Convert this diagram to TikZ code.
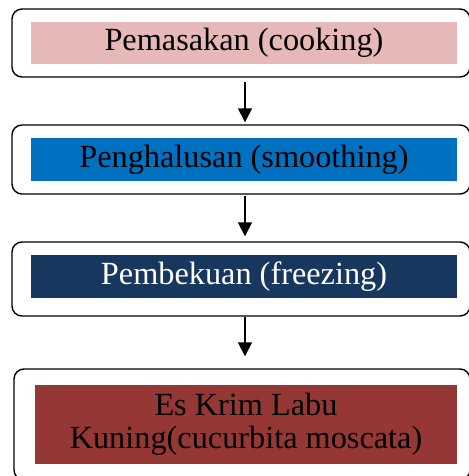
\documentclass[tikz,border=0pt]{standalone}
\usepackage{fontspec}
\setmainfont{Liberation Serif}
\usetikzlibrary{arrows.meta}
\definecolor{cookpink}{HTML}{E6B8B7}
\definecolor{smoothblue}{HTML}{0070C0}
\definecolor{freezenavy}{HTML}{17375E}
\definecolor{pumpkinred}{HTML}{953735}
\tikzset{
  frame/.style={draw, rounded corners=10pt, line width=1.4pt, minimum width=458pt, inner sep=0pt},
  band/.style={inner sep=0pt, minimum width=426pt, minimum height=42pt, align=center,
    font=\fontsize{32.3}{32.5}\selectfont},
}

\begin{document}
\begin{tikzpicture}[x=1pt,y=1pt,>={Triangle[length=14pt,width=14pt]}]
    \useasboundingbox (0,0) rectangle (468,476);
    % steps
    \node[frame, minimum height=68pt]  (cook-box)   at (241,433)   {};
    \node[band, fill=cookpink]         (cook)       at (244,433)   {Pemasakan (cooking)};
    \node[frame, minimum height=69pt]  (smooth-box) at (241,316.5) {};
    \node[band, fill=smoothblue, minimum height=43pt] (smooth) at (244,316.5) {Penghalusan (smoothing)};
    \node[frame, minimum height=74pt]  (freeze-box) at (241,197)   {};
    \node[band, fill=freezenavy, text=white, minimum height=43pt] (freeze) at (244,199.5) {Pembekuan (freezing)};
    \node[frame, minimum height=111pt, minimum width=456pt] (ice-box) at (242,51.5) {};
    \node[band, fill=pumpkinred, minimum width=422pt, minimum height=79pt] (ice) at (246,51.5)
      {Es Krim Labu\\Kuning(cucurbita moscata)};
    \path[->, line width=1.5pt]
    ([xshift=4pt]cook-box.south)   edge[shorten <=4pt, shorten >=2pt] ([xshift=4pt]smooth-box.north)
    ([xshift=4pt]smooth-box.south) edge[shorten <=1pt, shorten >=5pt] ([xshift=4pt]freeze-box.north)
    ([xshift=4pt]freeze-box.south) edge[shorten >=12pt] ([xshift=3pt]ice-box.north);
  \end{tikzpicture}
\end{document}
